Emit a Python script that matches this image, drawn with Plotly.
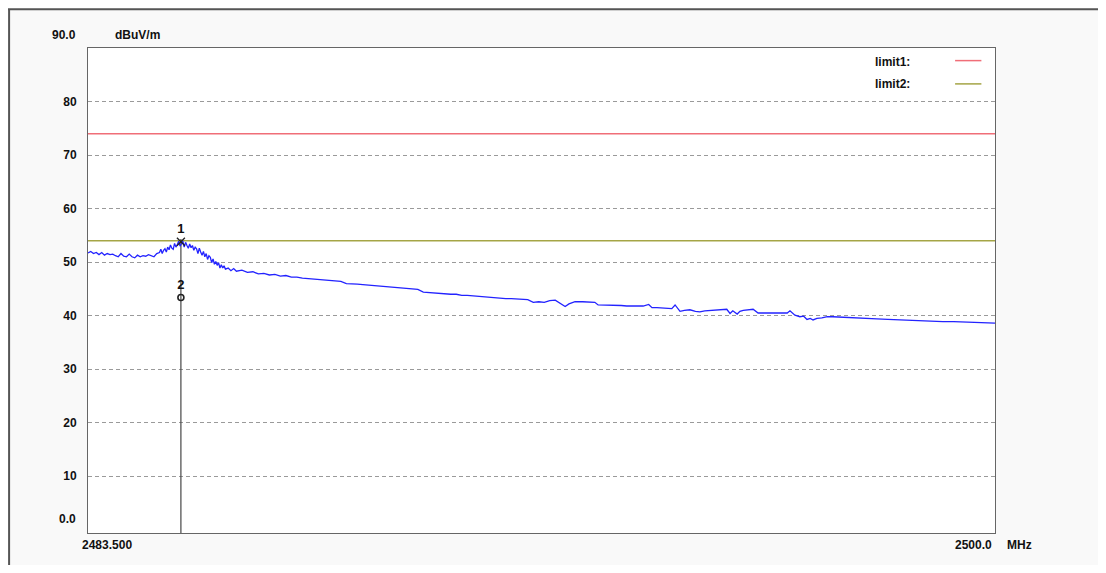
import plotly.graph_objects as go

# sweep (MHz, dBuV/m)
freq_a = [2483.50, 2483.55, 2483.60, 2483.65, 2483.70, 2483.75, 2483.80, 2483.85, 2483.90, 2483.95,
          2484.00, 2484.05, 2484.10, 2484.15, 2484.20, 2484.25, 2484.30, 2484.35, 2484.40, 2484.45,
          2484.50, 2484.55, 2484.60, 2484.65, 2484.70, 2484.75]
level_a = [51.7, 52.0, 51.6, 51.8, 51.4, 51.8, 51.3, 51.6, 51.4, 51.5,
           51.2, 51.0, 51.6, 51.1, 51.0, 51.5, 51.0, 50.8, 51.3, 51.0,
           51.2, 51.1, 51.4, 51.2, 51.0, 51.6]

freq_b = [2484.800, 2484.825, 2484.850, 2484.875, 2484.900, 2484.925, 2484.950, 2484.975,
          2485.000, 2485.025, 2485.050, 2485.075, 2485.100, 2485.125, 2485.150, 2485.175,
          2485.200, 2485.225, 2485.250, 2485.275, 2485.300, 2485.325, 2485.350, 2485.375,
          2485.400, 2485.425, 2485.450, 2485.475, 2485.500, 2485.525, 2485.550, 2485.575,
          2485.600, 2485.625, 2485.650, 2485.675, 2485.700, 2485.725, 2485.750, 2485.775,
          2485.800, 2485.825, 2485.850, 2485.875, 2485.900, 2485.925, 2485.950, 2485.975, 2486.000]
level_b = [51.8, 52.4, 51.6, 52.2, 52.5, 51.9, 52.8, 52.3,
           53.2, 52.6, 52.4, 53.5, 52.8, 53.3, 53.9, 53.0,
           53.6, 53.9, 52.8, 53.7, 53.1, 52.6, 53.4, 52.7,
           53.1, 52.2, 52.8, 52.5, 51.6, 52.6, 51.9, 51.3,
           52.0, 51.0, 51.6, 50.5, 51.2, 50.9, 49.9, 50.6,
           49.6, 50.1, 49.4, 49.9, 48.9, 49.5, 48.9, 49.3, 48.7]

freq_c = [2486.05, 2486.10, 2486.15, 2486.20, 2486.30, 2486.40, 2486.50, 2486.60, 2486.70, 2486.80,
          2486.90, 2487.00, 2487.10, 2487.20, 2487.30, 2487.40, 2487.50, 2487.60, 2487.70, 2487.80,
          2487.90, 2488.00, 2488.10, 2488.20, 2488.30, 2488.40, 2488.50, 2488.60, 2488.70, 2488.80,
          2488.90, 2489.00, 2489.10, 2489.20, 2489.30, 2489.40, 2489.50, 2489.60, 2489.70, 2489.80,
          2489.90, 2490.00, 2490.10, 2490.20, 2490.30, 2490.40, 2490.50, 2490.60, 2490.70, 2490.80,
          2490.90, 2491.00, 2491.10, 2491.20, 2491.30, 2491.40, 2491.50, 2491.60, 2491.70, 2491.80,
          2491.90, 2492.00, 2492.10, 2492.18, 2492.25, 2492.36, 2492.50, 2492.60, 2492.72, 2492.78,
          2492.90, 2493.00, 2493.10, 2493.20, 2493.30, 2493.40, 2493.50, 2493.60, 2493.70, 2493.76,
          2493.85, 2493.95, 2494.05, 2494.12, 2494.18, 2494.22, 2494.27, 2494.35, 2494.45, 2494.55,
          2494.63, 2494.72, 2494.82, 2494.95, 2495.05, 2495.12, 2495.18, 2495.23, 2495.31, 2495.36,
          2495.42, 2495.50, 2495.60, 2495.69, 2495.80, 2495.96, 2496.10, 2496.22, 2496.27, 2496.32,
          2496.36, 2496.45, 2496.52, 2496.58, 2496.64, 2496.69, 2496.76, 2496.85, 2496.95, 2497.05,
          2497.20, 2497.36, 2497.50, 2497.67, 2497.85, 2498.05, 2498.27, 2498.50, 2498.70, 2498.87,
          2499.05, 2499.25, 2499.49, 2499.70, 2499.85, 2500.00]
level_c = [48.9, 48.4, 48.8, 48.3, 48.5, 48.1, 48.2, 47.8, 47.9, 47.6,
           47.7, 47.4, 47.5, 47.2, 47.2, 47.0, 46.9, 46.8, 46.8, 46.6,
           46.5, 46.4, 46.4, 46.0, 46.0, 45.9, 45.8, 45.7, 45.6, 45.5,
           45.4, 45.3, 45.2, 45.1, 45.1, 45.0, 44.9, 44.4, 44.3, 44.3,
           44.2, 44.1, 44.0, 44.0, 43.8, 43.8, 43.7, 43.6, 43.5, 43.5,
           43.4, 43.3, 43.2, 43.2, 43.1, 43.1, 43.0, 42.5, 42.6, 42.5,
           42.8, 42.9, 42.3, 41.7, 42.2, 42.6, 42.6, 42.5, 42.5, 42.0,
           42.0, 42.0, 41.9, 41.9, 41.8, 41.8, 41.7, 41.8, 42.1, 41.5,
           41.5, 41.4, 41.3, 41.3, 42.0, 41.4, 40.8, 41.0, 41.1, 40.8,
           40.7, 40.9, 41.0, 41.0, 41.1, 41.2, 40.4, 40.9, 40.3, 40.8,
           41.0, 41.1, 41.2, 40.5, 40.5, 40.4, 40.5, 40.5, 40.9, 40.5,
           40.1, 39.8, 39.9, 39.3, 39.5, 39.2, 39.5, 39.6, 39.8, 39.8,
           39.7, 39.7, 39.6, 39.5, 39.4, 39.3, 39.2, 39.1, 39.1, 39.0,
           38.9, 38.9, 38.8, 38.7, 38.7, 38.6]

limit1 = 74.0
limit2 = 54.0
marker_freq = 2485.19
marker1_level = 53.8
marker2_level = 43.4
y_ticks = [10, 20, 30, 40, 50, 60, 70, 80]

freqs = freq_a + freq_b + freq_c
levels = level_a + level_b + level_c

FONT = "Liberation Sans"
x0, x1 = 2483.5, 2500.0
RED = "rgb(240,110,120)"
OLIVE = "rgb(165,165,70)"

fig = go.Figure()

# limits
fig.add_trace(go.Scatter(x=[x0, x1], y=[limit1, limit1], mode="lines",
                         line=dict(color=RED, width=1.5), hoverinfo="skip"))
fig.add_trace(go.Scatter(x=[x0, x1], y=[limit2, limit2], mode="lines",
                         line=dict(color=OLIVE, width=1.5), hoverinfo="skip"))

# marker line
fig.add_trace(go.Scatter(x=[marker_freq, marker_freq], y=[-0.6, marker1_level + 0.5], mode="lines",
                         line=dict(color="rgb(70,70,70)", width=1.2), hoverinfo="skip"))

# measured trace
fig.add_trace(go.Scatter(x=freqs, y=levels, mode="lines",
                         line=dict(color="rgb(35,35,255)", width=1.3)))

# markers 1 and 2
fig.add_trace(go.Scatter(x=[marker_freq], y=[marker1_level], mode="markers+text",
                         marker=dict(symbol="x-thin", size=8, color="#222",
                                     line=dict(color="#222", width=1.3)),
                         text=["1"], textposition="top center",
                         textfont=dict(family=FONT, size=13, color="#111", weight="bold")))
fig.add_trace(go.Scatter(x=[marker_freq], y=[marker2_level], mode="markers+text",
                         marker=dict(symbol="circle-open", size=6, color="#222",
                                     line=dict(color="#222", width=1.6)),
                         text=["2"], textposition="top center",
                         textfont=dict(family=FONT, size=13, color="#111", weight="bold")))

annots = [
    dict(text="90.0", x=-0.011, y=90, xref="paper", yref="y", xanchor="right", yanchor="bottom", yshift=4),
    dict(text="dBuV/m", x=0.028, y=90, xref="paper", yref="y", xanchor="left", yanchor="bottom", yshift=4),
    dict(text="0.0", x=-0.011, y=0, xref="paper", yref="y", xanchor="right", yanchor="bottom", yshift=2),
    dict(text="2483.500", x=0.021, y=0, xref="paper", yref="paper", xanchor="center", yanchor="top", yshift=-3),
    dict(text="2500.0", x=0.999, y=0, xref="paper", yref="paper", xanchor="right", yanchor="top", yshift=-3),
    dict(text="MHz", x=1.011, y=0, xref="paper", yref="paper", xanchor="left", yanchor="top", yshift=-3),
    dict(text="limit1:", x=0.866, y=0.972, xref="paper", yref="paper", xanchor="left", yanchor="middle"),
    dict(text="limit2:", x=0.866, y=0.925, xref="paper", yref="paper", xanchor="left", yanchor="middle"),
]
for a in annots:
    a.update(showarrow=False, font=dict(family=FONT, size=12, color="#111", weight="bold"))
fig.update_layout(annotations=annots)

shapes = [
    dict(type="line", xref="paper", yref="paper", x0=0.956, x1=0.985, y0=0.974, y1=0.974,
         line=dict(color=RED, width=1.5)),
    dict(type="line", xref="paper", yref="paper", x0=0.956, x1=0.985, y0=0.926, y1=0.926,
         line=dict(color=OLIVE, width=1.5)),
    # outer frame (top and left edges of the window)
    dict(type="line", xref="paper", yref="paper", x0=-0.09, x1=1.12, y0=1.08, y1=1.08,
         line=dict(color="#555", width=2)),
    dict(type="line", xref="paper", yref="paper", x0=-0.087, x1=-0.087, y0=-0.07, y1=1.08,
         line=dict(color="#555", width=2)),
]
fig.update_layout(shapes=shapes)

# page body has an 8px margin, so the figure is shrunk and margins shifted
fig.update_layout(
    width=1090, height=557,
    margin=dict(l=80, r=103, t=40, b=32),
    paper_bgcolor="#f9f9f9",
    plot_bgcolor="white",
    showlegend=False,
    font=dict(family=FONT),
    xaxis=dict(range=[x0, x1], showgrid=False, showticklabels=False, ticks="",
               showline=True, mirror=True, linecolor="#666", linewidth=1, zeroline=False),
    yaxis=dict(range=[-0.6, 90], tickvals=y_ticks, ticktext=[str(v) for v in y_ticks],
               showgrid=True, gridcolor="#9a9a9a", griddash="4px,3px", gridwidth=1,
               ticks="", ticklabelstandoff=8,
               tickfont=dict(family=FONT, size=12, color="#111", weight="bold"),
               showline=True, mirror=True, linecolor="#666", linewidth=1, zeroline=False),
)

fig.write_html("out.html")
